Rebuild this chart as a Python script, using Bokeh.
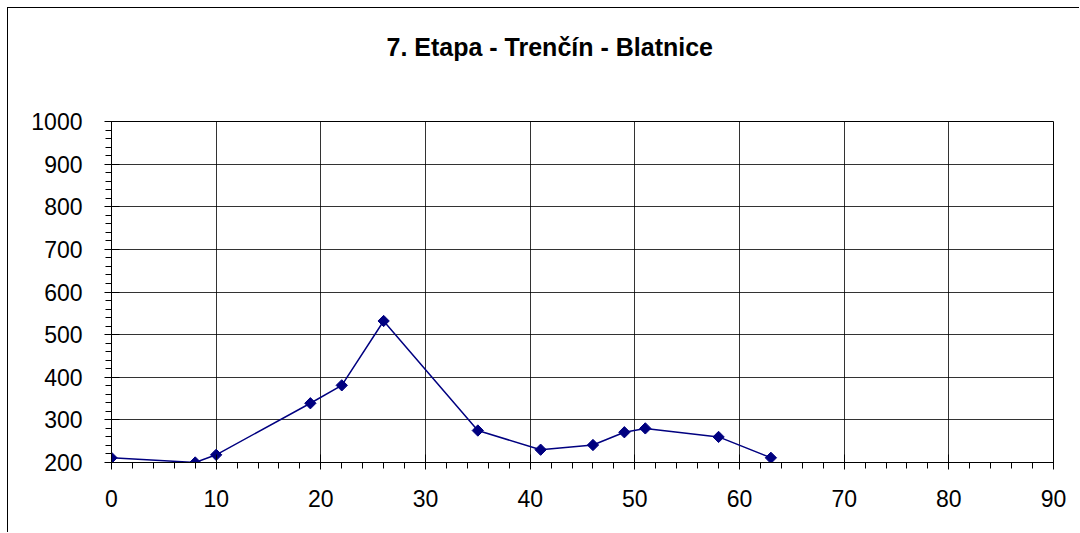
import numpy as np
from bokeh.plotting import figure
from bokeh.models import SingleIntervalTicker, Range1d, Title
from bokeh.embed import file_html
from bokeh.resources import INLINE

km = [0, 8, 10, 19, 22, 26, 35, 41, 46, 49, 51, 58, 63]
alt = [211, 200, 218, 339, 381, 532, 275, 230, 241, 271, 280, 260, 211]
title_text = "7. Etapa - Trenčín - Blatnice"
x_min, x_max = 0, 90
y_min, y_max = 200, 1000

FONT = "Liberation Sans"

p = figure(width=1072, height=525, output_backend="svg", toolbar_location=None,
           x_range=Range1d(x_min, x_max), y_range=Range1d(y_min, y_max),
           min_border_left=103, min_border_right=27, min_border_top=113, min_border_bottom=71,
           title=title_text)
p.margin = (7, 0, 0, 7)
p.styles = {"border-left": "1px solid black", "border-top": "1px solid black"}
p.outline_line_color = "black"
p.outline_line_width = 1
p.background_fill_color = "white"
p.border_fill_color = "white"

p.title.align = "left"
p.title.offset = 275
p.title.text_font = FONT
p.title.text_font_size = "25px"
p.title.text_font_style = "bold"
p.title.text_color = "black"
p.title.standoff = 10

# empty spacer between the title and the plot frame
p.add_layout(Title(text=" ", text_font_size="10px", standoff=43), "above")

p.xaxis.ticker = SingleIntervalTicker(interval=10, num_minor_ticks=5)
p.yaxis.ticker = SingleIntervalTicker(interval=100, num_minor_ticks=5)
for ax in (p.xaxis, p.yaxis):
    ax.axis_line_color = "black"
    ax.major_tick_line_color = "black"
    ax.minor_tick_line_color = "black"
    ax.major_tick_in = 8
    ax.major_tick_out = 7
    ax.minor_tick_in = 0
    ax.minor_tick_out = 6
    ax.major_label_text_font = FONT
    ax.major_label_text_font_size = "23px"
    ax.major_label_text_color = "black"
p.xaxis.major_label_standoff = 20
p.yaxis.major_label_standoff = 22

p.grid.grid_line_color = "black"
p.grid.grid_line_alpha = 0.8
p.grid.grid_line_width = 1

p.line(km, alt, line_color="#000080", line_width=1.5)
p.scatter(km, alt, marker="square", angle=np.pi / 4, size=8,
          fill_color="#000080", line_color="#000080")

open("out.html", "w").write(file_html(p, INLINE))
